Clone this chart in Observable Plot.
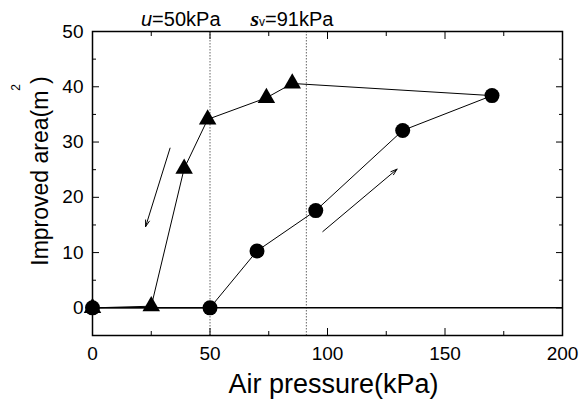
<!DOCTYPE html>
<html><head><meta charset="utf-8">
<script src="https://cdn.jsdelivr.net/npm/d3@7"></script>
<script src="https://cdn.jsdelivr.net/npm/@observablehq/plot@0.6"></script>
<style>body{margin:0;background:#fff} svg{display:block}</style>
</head><body><div id="chart"></div>
<script>
// Loading (increasing pressure) — circles
const loadX = [0, 50, 70, 95, 132, 170];
const loadY = [0, 0, 10.3, 17.6, 32.1, 38.4];
// Unloading (decreasing pressure) — triangles
const unloadX = [85, 74, 49, 39, 25, 0];
const unloadY = [40.6, 38, 34.1, 25.2, 0.3, 0];
// Reference pressures
const refX = [50, 91];
const refLabels = ["u=50kPa", "sv=91kPa"];
// Direction arrows
const arrowX1 = [33, 98];
const arrowY1 = [28.9, 13.8];
const arrowX2 = [22.6, 129.6];
const arrowY2 = [14.7, 25.1];
// Ticks
const xMajor = [0, 50, 100, 150, 200];
const xMinor = [25, 75, 125, 175];
const yMajor = [0, 10, 20, 30, 40, 50];
const yMinor = [5, 15, 25, 35, 45];
const xTitle = "Air pressure(kPa)";
const yTitle = ["Improved area(m", "2", ")"];

const loadData = loadX.map((x, i) => ({x, y: loadY[i]}));
const unloadData = unloadX.map((x, i) => ({x, y: unloadY[i]}));
const pathData = loadData.concat(unloadData);
const arrows = arrowX1.map((x1, i) => ({x1, y1: arrowY1[i], x2: arrowX2[i], y2: arrowY2[i]}));
const refs = refX.map((x, i) => ({x, label: refLabels[i]}));
const blank = () => "";

const chart = Plot.plot({
  width: 587, height: 399,
  marginLeft: 92, marginRight: 25, marginTop: 31, marginBottom: 64,
  style: {fontFamily: "'Liberation Sans', Arial, sans-serif", fontSize: "19px", color: "black", background: "white"},
  x: {domain: [0, 200]},
  y: {domain: [-5, 50]},
  marks: [
    Plot.ruleX(refX, {stroke: "#666", strokeDasharray: "1.5,1.5", strokeWidth: 1}),
    Plot.ruleY([0], {stroke: "black", strokeWidth: 1.5}),
    Plot.line(pathData, {x: "x", y: "y", stroke: "black", strokeWidth: 1}),
    Plot.arrow(arrows, {x1: "x1", y1: "y1", x2: "x2", y2: "y2", stroke: "black", strokeWidth: 1, headLength: 10, headAngle: 35}),
    Plot.dot(loadData, {x: "x", y: "y", r: 7.5, fill: "black", symbol: "circle"}),
    Plot.dot(unloadData, {x: "x", y: "y", r: 6.5, fill: "black", symbol: "triangle"}),
    Plot.frame({stroke: "black", strokeWidth: 1.5}),
    Plot.axisX({ticks: xMajor, tickSize: -7, tickPadding: 18, label: null, fontSize: 19}),
    Plot.axisX({ticks: xMinor, tickSize: -4, tickFormat: blank, label: null}),
    Plot.axisX({anchor: "top", ticks: xMajor, tickSize: -7, tickFormat: blank, label: null}),
    Plot.axisX({anchor: "top", ticks: xMinor, tickSize: -4, tickFormat: blank, label: null}),
    Plot.axisY({ticks: yMajor, tickSize: -7, tickPadding: 16, label: null, fontSize: 19}),
    Plot.axisY({ticks: yMinor, tickSize: -4, tickFormat: blank, label: null}),
    Plot.axisY({anchor: "right", ticks: yMajor, tickSize: -7, tickFormat: blank, label: null}),
    Plot.axisY({anchor: "right", ticks: yMinor, tickSize: -4, tickFormat: blank, label: null}),
    Plot.text([refs[0]], {x: "x", text: "label", frameAnchor: "top", lineAnchor: "bottom", textAnchor: "end", dx: 10.5, dy: -6, fontSize: 20, className: "reflabel-u"}),
    Plot.text([refs[1]], {x: "x", text: "label", frameAnchor: "top", lineAnchor: "bottom", textAnchor: "end", dx: 27, dy: -6, fontSize: 20, className: "reflabel-s"}),
    Plot.text([xTitle], {frameAnchor: "bottom", lineAnchor: "bottom", dx: 6, dy: 57, fontSize: 27})
  ]
});

const svg = d3.select(chart);
// Rich text for reference labels
svg.selectAll(".reflabel-u text").each(function() {
  const t = d3.select(this); const s = t.text(); t.text("");
  t.append("tspan").attr("font-style", "italic").text(s[0]);
  t.append("tspan").text(s.slice(1));
});
svg.selectAll(".reflabel-s text").each(function() {
  const t = d3.select(this); const s = t.text(); t.text("");
  t.append("tspan").attr("font-style", "italic").attr("font-weight", "bold").attr("font-family", "'Liberation Serif', serif").attr("font-size", 22).text(s[0]);
  t.append("tspan").attr("font-size", 12).text(s[1]);
  t.append("tspan").text(s.slice(2));
});
// Y title with superscript
const yt = svg.append("text")
  .attr("transform", "translate(48,171) rotate(-90)")
  .attr("text-anchor", "middle")
  .attr("font-size", 23)
  .attr("fill", "black");
yt.append("tspan").text(yTitle[0]);
yt.append("tspan").attr("dy", -28).attr("font-size", 12).text(yTitle[1]);
yt.append("tspan").attr("dy", 28).text(yTitle[2]);

document.getElementById("chart").appendChild(chart);
</script>
</body></html>
